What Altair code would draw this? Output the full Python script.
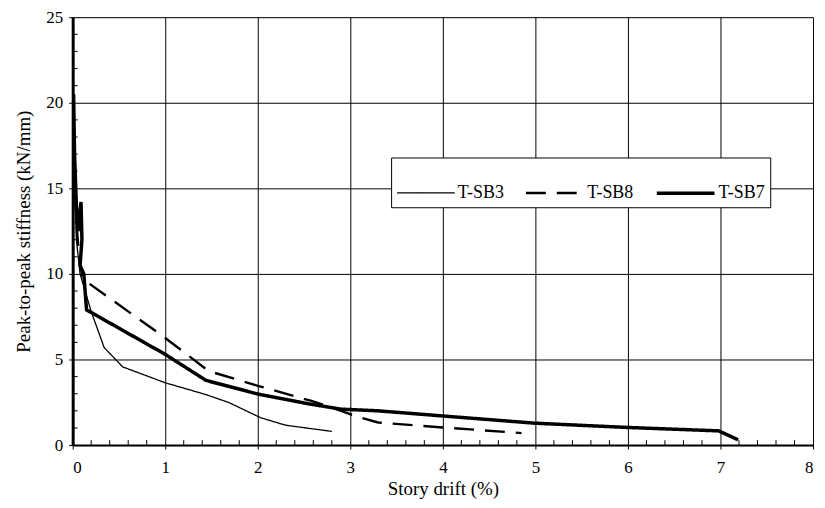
import altair as alt
import pandas as pd

series_names = ["T-SB3", "T-SB8", "T-SB7"]

sb3_x = [0.0, 0.01, 0.02, 0.04, 0.08, 0.2, 0.34, 0.54, 1.0, 1.44, 1.69, 2.03, 2.3, 2.8]
sb3_y = [20.5, 18.0, 15.0, 12.0, 10.0, 7.8, 5.7, 4.57, 3.64, 2.95, 2.48, 1.6, 1.16, 0.8]

sb8_x = [0.0, 0.02, 0.04, 0.07, 0.11, 1.0, 1.47, 2.01, 2.58, 2.9, 3.09, 3.3, 4.0, 4.85]
sb8_y = [20.0, 17.0, 13.0, 11.0, 9.7, 6.26, 4.32, 3.45, 2.58, 2.0, 1.63, 1.32, 1.03, 0.7]

sb7_x = [0.01, 0.02, 0.04, 0.06, 0.09, 0.1, 0.08, 0.12, 0.15, 1.0, 1.44, 2.01, 2.58, 2.9, 3.3, 4.0, 4.99, 5.99, 6.98, 7.19]
sb7_y = [20.5, 17.0, 14.0, 12.5, 14.2, 12.0, 10.5, 10.0, 7.9, 5.3, 3.78, 2.97, 2.38, 2.1, 2.0, 1.7, 1.28, 1.03, 0.83, 0.31]

x_minor = [v / 5 for v in range(0, 41) if v % 5 != 0]
y_minor = [v for v in range(0, 26) if v % 5 != 0]

rows = []
for name, xs, ys in zip(series_names, [sb3_x, sb8_x, sb7_x], [sb3_y, sb8_y, sb7_y]):
    for i, (x, y) in enumerate(zip(xs, ys)):
        rows.append({"series": name, "drift": x, "stiffness": y, "idx": i})
df = pd.DataFrame(rows)

W, H = 744, 430
font = "Times New Roman, Liberation Serif, DejaVu Serif, serif"

xscale = alt.Scale(domain=[0, 8], nice=False)
yscale = alt.Scale(domain=[0, 25], nice=False)

legend = alt.Legend(
    title=None, orient="none", legendX=320, legendY=141, direction="horizontal",
    symbolType="stroke", symbolSize=3364, symbolStrokeColor="black",
    fillColor="white", strokeColor="black", padding=5,
    labelFont=font, labelFontSize=18, labelColor="black", columnPadding=16,
    labelOffset=2,
)

lines = alt.Chart(df).mark_line(color="black", clip=True).encode(
    x=alt.X("drift:Q", scale=xscale, title="Story drift (%)",
            axis=alt.Axis(values=list(range(0, 9)), format="d", grid=True, gridColor="black",
                          gridWidth=1, gridOpacity=1, domainColor="black", domainWidth=2,
                          tickColor="black", tickSize=4, labelFont=font, labelFontSize=17,
                          labelColor="black", titleFont=font, titleFontSize=19,
                          titleFontWeight="normal", titleColor="black",
                          titleBaseline="alphabetic", titleY=50, labelPadding=11)),
    y=alt.Y("stiffness:Q", scale=yscale, title="Peak-to-peak stiffness (kN/mm)",
            axis=alt.Axis(values=[0, 5, 10, 15, 20, 25], format="d", grid=True, gridColor="black",
                          gridWidth=1, gridOpacity=1, domainColor="black", domainWidth=3,
                          tickColor="black", tickSize=4, labelFont=font, labelFontSize=17,
                          labelColor="black", titleFont=font, titleFontSize=19,
                          titleFontWeight="normal", titleColor="black", titlePadding=12,
                          labelPadding=6)),
    strokeDash=alt.StrokeDash("series:N", scale=alt.Scale(domain=series_names,
                              range=[[1, 0], [20, 11], [1, 0]]), legend=legend),
    strokeWidth=alt.StrokeWidth("series:N", scale=alt.Scale(domain=series_names,
                                range=[1.3, 3.5, 3]), legend=legend),
    order="idx:Q",
    detail="series:N",
)

xm = alt.Chart(pd.DataFrame({"v": x_minor})).mark_rule(color="black", strokeWidth=1).encode(
    x=alt.X("v:Q", scale=xscale), y=alt.value(H), y2=alt.value(H - 5))
ym = alt.Chart(pd.DataFrame({"v": y_minor})).mark_rule(color="black", strokeWidth=1).encode(
    y=alt.Y("v:Q", scale=yscale), x=alt.value(0), x2=alt.value(5))

chart = alt.layer(xm, ym, lines).properties(
    width=W, height=H,
    autosize=alt.AutoSizeParams(type="none"),
    padding={"left": 65, "top": 8, "right": 4, "bottom": 60},
).configure_view(stroke="black", strokeWidth=1.5).configure(background="white")

chart.save("out.html", embed_options={"renderer": "svg", "actions": False})
